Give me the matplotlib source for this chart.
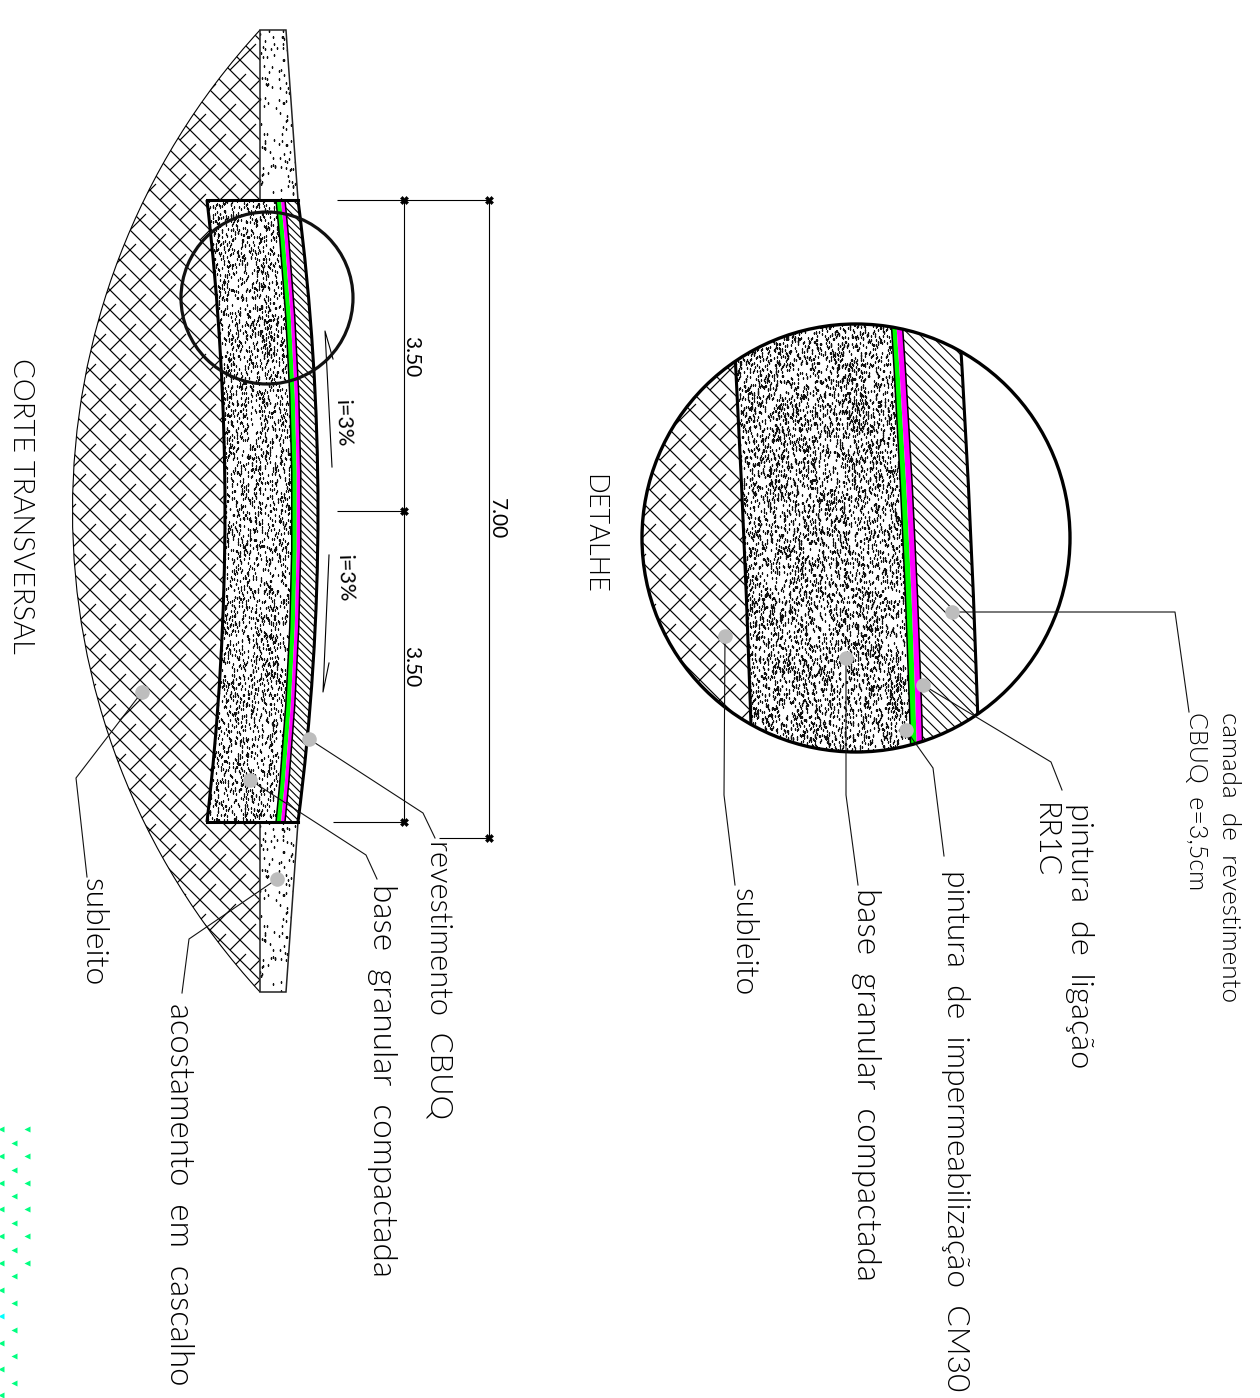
import numpy as np
import matplotlib
matplotlib.use("Agg")
import matplotlib.pyplot as plt
from matplotlib.path import Path
from matplotlib.patches import PathPatch, Circle
from matplotlib.collections import LineCollection

plt.rcParams['font.family'] = ['Lato', 'DejaVu Sans']

# everything below is in picture pixels
# main section, x of each layer at top / crown / bottom
sec_y = [200, 511, 822]
sec_base_x = [207, 225, 207]
sec_green_x = [276, 292, 276]
sec_mag_x = [281, 297, 281]
sec_band_x = [285, 301, 285]
sec_top_x = [298, 318, 298]
sub_arc = [(260, 30), (10, 302), (10, 720), (260, 992)]
shoulder_top = [(260, 30), (286, 30), (298, 200), (260, 200)]
shoulder_bot = [(260, 822), (298, 822), (286, 992), (260, 992)]

# detail circle, same layers
det_y = [318, 540, 758]
det_base_x = [733, 744, 752]
det_green_x = [891, 903, 911]
det_mag_x = [896, 909, 917]
det_band_x = [902, 915, 923]
det_top_x = [959, 971, 979]
det_circle = (856, 538, 214)
small_circle = (267, 298, 86)

# dimensions
dim_lines = [[(404, 200), (404, 822)], [(489, 200), (489, 838)],
             [(337, 200), (489, 200)], [(337, 511), (404, 511)],
             [(333, 822), (404, 822)], [(439, 838), (489, 838)]]
dim_dots_x = [404, 404, 404, 489, 489]
dim_dots_y = [200, 511, 822, 200, 838]
dim_labels = [("3.50", 411, 357), ("3.50", 411, 667), ("7.00", 497, 519)]
slope_arrows = [[(333, 359), (325, 331), (332, 467)],
                [(329, 555), (323, 692), (329, 663)]]
slope_labels = [("i=3%", 343, 424), ("i=3%", 345, 579)]

# leaders: dot, elbow, end
leaders = [[(309, 739), (423, 813), (435, 838)],
           [(250, 780), (366, 855), (377, 879)],
           [(142, 692), (76, 778), (87, 877)],
           [(277, 879), (189, 939), (182, 993)],
           [(952, 612), (1175, 612), (1189, 712)],
           [(923, 685), (1051, 762), (1062, 790)],
           [(906, 730), (933, 768), (944, 856)],
           [(846, 658), (846, 795), (858, 885)],
           [(725, 636), (724, 795), (735, 885)]]

# text, x of baseline, first y, size
labels = [("CORTE TRANSVERSAL", 13, 358, 21), ("revestimento  CBUQ", 430, 840, 22.2),
          ("base  granular  compactada", 373, 884, 24), ("subleito", 85, 878, 23),
          ("acostamento  em  cascalho", 170, 1003, 23.7), ("DETALHE", 586, 474, 19.5),
          ("camada  de  revestimento", 1222, 712, 18.8), ("CBUQ  e=3,5cm", 1189, 712, 18),
          ("pintura  de  ligação", 1071, 803, 23.4), ("RR1C", 1036, 803, 22),
          ("pintura  de  impermeabilização  CM30", 947, 870, 22.9),
          ("base  granular  compactada", 857, 888, 24), ("subleito", 735, 888, 23)]

# green marks bottom left
mark_col1_y = [1129, 1156, 1183, 1209, 1236, 1263, 1290, 1343, 1369, 1395]
mark_col2_y = [1143, 1170, 1196, 1223, 1250, 1276, 1303, 1330, 1356, 1383]
mark_col3_y = [1129, 1156, 1183, 1209, 1236, 1263]
mark_x = [1, 14, 27]
cyan_mark = (1, 1316)


def curve(xs, ys):
    # quadratic through three points, passes through the middle one
    cx = 2 * xs[1] - (xs[0] + xs[2]) / 2
    cy = 2 * ys[1] - (ys[0] + ys[2]) / 2
    return [(xs[0], ys[0]), (cx, cy), (xs[2], ys[2])]


def band(x1, x2, ys):
    a = curve(x1, ys)
    b = curve(x2, ys)[::-1]
    verts = a + [b[0]] + b[1:] + [a[0]]
    codes = [Path.MOVETO, Path.CURVE3, Path.CURVE3, Path.LINETO,
             Path.CURVE3, Path.CURVE3, Path.CLOSEPOLY]
    return Path(verts, codes)


def edge(ax, xs, ys, lw=2.2, z=5):
    v = curve(xs, ys)
    p = Path(v, [Path.MOVETO, Path.CURVE3, Path.CURVE3])
    ax.add_patch(PathPatch(p, fc='none', ec='black', lw=lw, zorder=z))


def clip_patch(ax, path):
    return PathPatch(path, transform=ax.transData)


def scatter_hash(i, salt):
    # integer mixing, gives a value in 0..1 for the stipple texture
    mask = np.uint64(0xFFFFFFFF)
    k = (i.astype(np.uint64) * np.uint64(2654435761) + np.uint64(salt)) & mask
    k = k ^ (k >> np.uint64(13))
    k = (k * np.uint64(1274126177)) & mask
    k = k ^ (k >> np.uint64(16))
    return k.astype(float) / 4294967296.0


def stipple(ax, path, spacing, ms=1.0, z=2):
    box = path.get_extents()
    n = int(box.width * box.height / spacing ** 2)
    i = np.arange(1, n + 1)
    xs = box.x0 + scatter_hash(i, 17) * box.width
    ys = box.y0 + scatter_hash(i, 90001) * box.height
    ln, = ax.plot(xs, ys, ls='none', marker='s', ms=ms, mec='none', color='#111111', zorder=z)
    ln.set_snap(False)
    ln.set_clip_path(clip_patch(ax, path))


def diag_hatch(ax, path, step, lw=0.8, z=2):
    box = path.get_extents()
    segs = []
    for d in np.arange(box.x0 - box.y1, box.x1 - box.y0, step):
        segs.append([(box.y0 + d, box.y0), (box.y1 + d, box.y1)])
    lc = LineCollection(segs, colors='black', linewidths=lw, zorder=z)
    ax.add_collection(lc)
    lc.set_clip_path(clip_patch(ax, path))


def brick_hatch(ax, path, s, lw=0.85, z=1):
    box = path.get_extents()
    segs = []
    v0 = box.x0 - box.y1
    v1 = box.x1 - box.y0
    u0 = box.x0 + box.y0
    u1 = box.x1 + box.y1
    # long lines running down right
    for v in np.arange(v0 - v0 % s, v1, s):
        segs.append([((u0 + v) / 2, (u0 - v) / 2), ((u1 + v) / 2, (u1 - v) / 2)])
    # staggered shorter lines running up right
    for m, u in enumerate(np.arange(u0 - u0 % s, u1, s)):
        for v in np.arange(v0 - v0 % (4 * s) + (m % 2) * 2 * s, v1, 4 * s):
            a = v
            b = v + 2.6 * s
            segs.append([((u + a) / 2, (u - a) / 2), ((u + b) / 2, (u - b) / 2)])
    lc = LineCollection(segs, colors='black', linewidths=lw, zorder=z)
    ax.add_collection(lc)
    lc.set_clip_path(clip_patch(ax, path))


def layers(ax, ys, base_x, green_x, mag_x, band_x, top_x, spacing, step, ms):
    base = band(base_x, green_x, ys)
    stipple(ax, base, spacing, ms=ms)
    ax.add_patch(PathPatch(band(green_x, mag_x, ys), fc='#00ff00', ec='none', zorder=3))
    ax.add_patch(PathPatch(band(mag_x, band_x, ys), fc='#ff00ff', ec='none', zorder=3))
    diag_hatch(ax, band(band_x, top_x, ys), step)
    edge(ax, green_x, ys, lw=1.1)
    edge(ax, band_x, ys, lw=1.1)
    edge(ax, base_x, ys)
    edge(ax, top_x, ys)


fig = plt.figure(figsize=(12.6, 13.98), dpi=100)
ax = fig.add_axes([0, 0, 1, 1])
ax.set_xlim(0, 1260)
ax.set_ylim(1398, 0)
ax.axis('off')

# subgrade of main section
sub_clip = Path(sub_arc + [sub_arc[0]], [Path.MOVETO, Path.CURVE4, Path.CURVE4, Path.CURVE4, Path.CLOSEPOLY])
sub_line = Path(sub_arc, [Path.MOVETO, Path.CURVE4, Path.CURVE4, Path.CURVE4])
brick_hatch(ax, sub_clip, 20)
ax.add_patch(PathPatch(sub_line, fc='none', ec='black', lw=0.8, zorder=2))

# white roadway over the subgrade hatch
road = band(sec_base_x, sec_top_x, sec_y)
ax.add_patch(PathPatch(road, fc='white', ec='none', zorder=1.5))
for sh in (shoulder_top, shoulder_bot):
    p = Path(sh + [sh[0]], closed=True)
    ax.add_patch(PathPatch(p, fc='white', ec='none', zorder=1.5))
    stipple(ax, p, 7, ms=1.2)
    ax.add_patch(PathPatch(p, fc='none', ec='#222222', lw=1.1, zorder=4))

layers(ax, sec_y, sec_base_x, sec_green_x, sec_mag_x, sec_band_x, sec_top_x, 3.5, 7.5, 1.0)
ax.plot([sec_base_x[0], sec_top_x[0]], [sec_y[0], sec_y[0]], color='black', lw=2.2, zorder=5)
ax.plot([sec_base_x[2], sec_top_x[2]], [sec_y[2], sec_y[2]], color='black', lw=2.2, zorder=5)
ax.add_patch(Circle(small_circle[:2], small_circle[2], fc='none', ec='#111111', lw=2.3, zorder=6))

# detail: left part hatched, masked to the circle afterwards
cx, cy, r = det_circle
sub_left = Path(curve(det_base_x, det_y) + [(cx - r - 5, det_y[2]), (cx - r - 5, det_y[0]), (det_base_x[0], det_y[0])],
                [Path.MOVETO, Path.CURVE3, Path.CURVE3, Path.LINETO, Path.LINETO, Path.CLOSEPOLY])
brick_hatch(ax, sub_left, 20)
layers(ax, det_y, det_base_x, det_green_x, det_mag_x, det_band_x, det_top_x, 3.2, 10.5, 1.05)

x0, x1, y0, y1 = cx - r - 8, cx + r + 8, cy - r - 8, cy + r + 8
rect = Path([(x0, y0), (x0, y1), (x1, y1), (x1, y0), (x0, y0)], closed=True)
hole = Path.circle((cx, cy), r)
mask = Path.make_compound_path(rect, hole)
ax.add_patch(PathPatch(mask, fc='white', ec='none', zorder=5.5))
ax.add_patch(Circle((cx, cy), r, fc='none', ec='black', lw=2.4, zorder=6))

# dimensions
ax.add_collection(LineCollection(dim_lines, colors='black', linewidths=0.8, zorder=4))
ax.plot(dim_dots_x, dim_dots_y, ls='none', marker='X', ms=6, mfc='black', mec='black', mew=0.4, zorder=7)
for txt, x, y in dim_labels:
    ax.text(x, y, txt, rotation=-90, ha='center', va='center', fontsize=15, fontweight=400, zorder=8)
for pts in slope_arrows:
    ax.plot([p[0] for p in pts], [p[1] for p in pts], color='black', lw=0.8, zorder=4)
for txt, x, y in slope_labels:
    ax.text(x, y, txt, rotation=-88, ha='center', va='center', fontsize=15.5, fontweight=400, zorder=8)

# leaders and their dots
for dot, elbow, end in leaders:
    ax.plot([dot[0], elbow[0], end[0]], [dot[1], elbow[1], end[1]], color='#111111', lw=0.8, zorder=6.5)
    ax.plot(dot[0], dot[1], ls='none', marker='o', ms=10.5, mfc='#bdbdbd', mec='none', zorder=7)

for txt, x, y, size in labels:
    ax.text(x, y, txt, rotation=-90, rotation_mode='anchor', ha='left', va='baseline',
            fontsize=size, fontweight=300, zorder=8)

# green marks
ax.plot([mark_x[0]] * len(mark_col1_y), mark_col1_y, ls='none', marker='<', ms=5, color='#00ff80', mec='none')
ax.plot([mark_x[1]] * len(mark_col2_y), mark_col2_y, ls='none', marker='<', ms=5, color='#00ff80', mec='none')
ax.plot([mark_x[2]] * len(mark_col3_y), mark_col3_y, ls='none', marker='<', ms=5, color='#00ff80', mec='none')
ax.plot(cyan_mark[0], cyan_mark[1], ls='none', marker='<', ms=5, color='#00ffff', mec='none')

fig.savefig('out.png', dpi=100, facecolor='white')
